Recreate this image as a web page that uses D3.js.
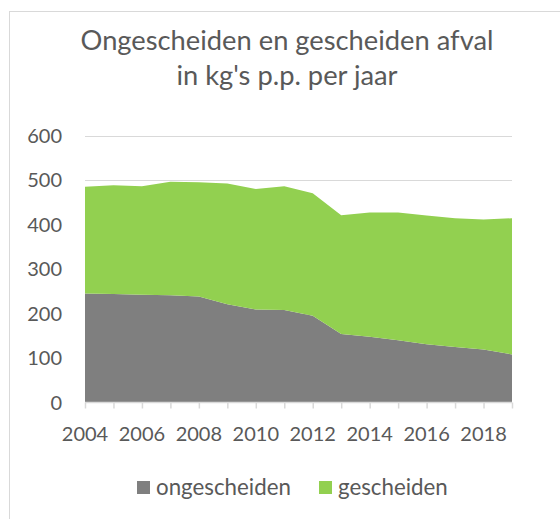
<!DOCTYPE html>
<html>
<head>
<meta charset="utf-8">
<script src="https://cdn.jsdelivr.net/npm/d3@7"></script>
<style>
  body { margin: 0; background: #fff; }
  text { font-family: Lato, "Open Sans", sans-serif; fill: #595959; }
</style>
</head>
<body>
<svg id="chart" width="560" height="519"></svg>
<script>
// data
const years = [2004, 2005, 2006, 2007, 2008, 2009, 2010, 2011, 2012, 2013, 2014, 2015, 2016, 2017, 2018, 2019];
const ongescheiden = [245, 244, 242, 241, 238, 221, 209, 208, 195, 154, 148, 140, 131, 125, 119, 108];
const gescheiden = [240, 244, 244, 255, 257, 271, 271, 278, 275, 267, 279, 287, 289, 289, 292, 306];
const seriesNames = ["ongescheiden", "gescheiden"];
const seriesColors = ["#7f7f7f", "#92d050"];
const yTicks = [0, 100, 200, 300, 400, 500, 600];
const xTickYears = [2004, 2006, 2008, 2010, 2012, 2014, 2016, 2018];
const titleLines = ["Ongescheiden en gescheiden afval", "in kg's p.p. per jaar"];

let svg = d3.select('#chart');

// outer frame
svg.append('rect')
    .attr('x', 9.5).attr('y', 11.5)
    .attr('width', 600).attr('height', 600)
    .attr('fill', 'none')
    .attr('stroke', '#d9d9d9');

let table = years.map((y, i) => ({year: y, ongescheiden: ongescheiden[i], gescheiden: gescheiden[i]}));
let stack = d3.stack().keys(seriesNames)(table);

let x = d3.scaleLinear().domain([2004, 2019]).range([85, 512]);
let yScale = d3.scaleLinear().domain([0, 600]).range([402.5, 135.5]);

// gridlines
svg.append('g')
    .selectAll('line')
    .data(yTicks.filter(d => d > 0))
    .join('line')
    .attr('x1', 85).attr('x2', 512)
    .attr('y1', d => Math.round(yScale(d)) + 0.5)
    .attr('y2', d => Math.round(yScale(d)) + 0.5)
    .attr('stroke', '#d9d9d9')
    .attr('stroke-width', 1);

let area = d3.area()
    .x(d => x(d.data.year))
    .y0(d => yScale(d[0]))
    .y1(d => yScale(d[1]));

svg.append('g')
    .selectAll('path')
    .data(stack)
    .join('path')
    .attr('d', area)
    .attr('fill', (d, i) => seriesColors[i]);

// x axis line and ticks
let xAxis = svg.append('g')
    .attr('transform', 'translate(0,' + 402.5 + ')')
    .call(d3.axisBottom(x).tickValues(years).tickSize(6).tickFormat(''));
xAxis.select('.domain').attr('stroke', '#d9d9d9').attr('stroke-width', 1.5)
    .attr('d', 'M85,0H512');
xAxis.selectAll('.tick line').attr('stroke', '#d9d9d9').attr('stroke-width', 1.5);

// x labels
svg.append('g')
    .selectAll('text')
    .data(xTickYears)
    .join('text')
    .attr('x', d => x(d))
    .attr('y', 441)
    .attr('text-anchor', 'middle')
    .attr('font-size', 20)
    .text(d => d);

// y labels
svg.append('g')
    .selectAll('text')
    .data(yTicks)
    .join('text')
    .attr('x', 62)
    .attr('y', d => yScale(d) + 7)
    .attr('text-anchor', 'end')
    .attr('font-size', 20)
    .text(d => d);

// title
svg.append('g')
    .selectAll('text')
    .data(titleLines)
    .join('text')
    .attr('x', 287)
    .attr('y', (d, i) => 50 + i * 35)
    .attr('text-anchor', 'middle')
    .attr('font-size', 27.3)
    .text(d => d);

// legend
let legendX = [137, 319];
let legend = svg.append('g')
    .selectAll('g')
    .data(seriesNames)
    .join('g')
    .attr('transform', (d, i) => 'translate(' + legendX[i] + ',481)');
legend.append('rect')
    .attr('width', 13).attr('height', 13)
    .attr('fill', (d, i) => seriesColors[i]);
legend.append('text')
    .attr('x', 19).attr('y', 14)
    .attr('font-size', 22.3)
    .text(d => d);
</script>
</body>
</html>
